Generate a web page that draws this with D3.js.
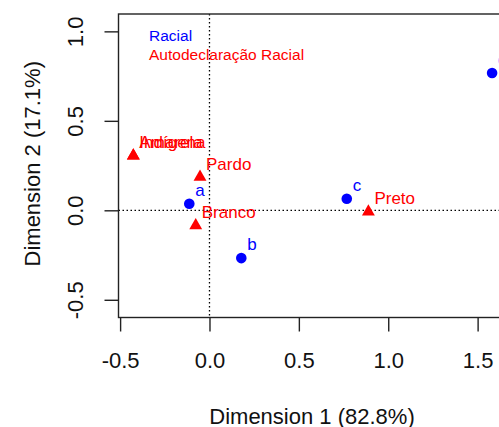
<!DOCTYPE html>
<html>
<head>
<meta charset="utf-8">
<script src="https://cdn.jsdelivr.net/npm/d3@7"></script>
<style>
  body { margin: 0; background: #fff; }
  text { font-family: "Liberation Sans", Arial, sans-serif; }
</style>
</head>
<body>
<svg width="499" height="427"></svg>
<script>
// row points (Racial)
var rowNames = ["a", "b", "c", "d"],
    rowX = [-0.113, 0.178, 0.768, 1.581],
    rowY = [0.037, -0.267, 0.065, 0.767];

// column points (Autodeclaração Racial)
var colNames = ["Amarela", "Branco", "Indígena", "Pardo", "Preto"],
    colX = [-0.426, -0.077, -0.426, -0.053, 0.889],
    colY = [0.305, -0.085, 0.305, 0.186, -0.008];

var xTicks = [-0.5, 0.0, 0.5, 1.0, 1.5],
    yTicks = [-0.5, 0.0, 0.5, 1.0];

var legendLabels = ["Racial", "Autodeclaração Racial"],
    colors = ["#0000ff", "#ff0000"];

var svg = d3.select("svg"),
    pLeft = 118.5, pRight = 505.5, pTop = 14, pBottom = 317.5;

var x = d3.scaleLinear().domain([-0.509, 1.656]).range([pLeft, pRight]);
var y = d3.scaleLinear().domain([-0.599, 1.097]).range([pBottom, pTop]);

// zero lines
svg.append("line")
    .attr("x1", x(0)).attr("x2", x(0)).attr("y1", pTop).attr("y2", pBottom)
    .attr("stroke", "#000").attr("stroke-width", 1.3).attr("stroke-dasharray", "1.5,2.5");
svg.append("line")
    .attr("x1", pLeft).attr("x2", pRight).attr("y1", y(0)).attr("y2", y(0))
    .attr("stroke", "#000").attr("stroke-width", 1.3).attr("stroke-dasharray", "1.5,2.5");

// box
svg.append("rect")
    .attr("x", pLeft).attr("y", pTop)
    .attr("width", pRight - pLeft).attr("height", pBottom - pTop)
    .attr("fill", "none").attr("stroke", "#222").attr("stroke-width", 1.4);

// x axis
var gx = svg.append("g")
    .attr("transform", "translate(0," + pBottom + ")")
    .call(d3.axisBottom(x).tickValues(xTicks).tickSize(14).tickPadding(21)
      .tickFormat(function(d) { return d.toFixed(1); }));
gx.select(".domain").remove();
gx.selectAll("line").attr("stroke", "#222").attr("stroke-width", 1.4);
gx.selectAll("text").attr("font-size", 22).attr("fill", "#111")
    .style("font-family", "'Liberation Sans', Arial, sans-serif");

// y axis
var gy = svg.append("g")
    .attr("transform", "translate(" + pLeft + ",0)")
    .call(d3.axisLeft(y).tickValues(yTicks).tickSize(14)
      .tickFormat(function(d) { return d.toFixed(1); }));
gy.select(".domain").remove();
gy.selectAll("line").attr("stroke", "#222").attr("stroke-width", 1.4);
gy.selectAll("text")
    .attr("x", 0).attr("dy", null)
    .attr("text-anchor", "middle")
    .attr("transform", "translate(" + (83 - pLeft) + ",0) rotate(-90)")
    .attr("font-size", 22).attr("fill", "#111")
    .style("font-family", "'Liberation Sans', Arial, sans-serif");

// axis titles
svg.append("text")
    .attr("x", (pLeft + pRight) / 2).attr("y", 424)
    .attr("text-anchor", "middle").attr("font-size", 22).attr("fill", "#111")
    .text("Dimension 1 (82.8%)");
svg.append("text")
    .attr("transform", "translate(40," + ((pTop + pBottom) / 2 - 2) + ") rotate(-90)")
    .attr("text-anchor", "middle").attr("font-size", 22).attr("fill", "#111")
    .text("Dimension 2 (17.1%)");

// row points
svg.selectAll(".row")
    .data(rowNames)
  .enter().append("circle")
    .attr("class", "row")
    .attr("cx", function(d, i) { return x(rowX[i]); })
    .attr("cy", function(d, i) { return y(rowY[i]); })
    .attr("r", 5.3)
    .attr("fill", colors[0]);

svg.selectAll(".rowlab")
    .data(rowNames)
  .enter().append("text")
    .attr("class", "rowlab")
    .attr("x", function(d, i) { return x(rowX[i]) + 6; })
    .attr("y", function(d, i) { return y(rowY[i]) - 8; })
    .attr("font-size", 17).attr("fill", colors[0])
    .text(function(d) { return d; });

// column points
var tri = d3.symbol().type(d3.symbolTriangle).size(72);
svg.selectAll(".col")
    .data(colNames)
  .enter().append("path")
    .attr("class", "col")
    .attr("d", tri)
    .attr("transform", function(d, i) { return "translate(" + x(colX[i]) + "," + y(colY[i]) + ")"; })
    .attr("fill", colors[1]);

svg.selectAll(".collab")
    .data(colNames)
  .enter().append("text")
    .attr("class", "collab")
    .attr("x", function(d, i) { return x(colX[i]) + 6; })
    .attr("y", function(d, i) { return y(colY[i]) - 7.5; })
    .attr("font-size", 17).attr("fill", colors[1])
    .text(function(d) { return d; });

// legend
svg.selectAll(".leg")
    .data(legendLabels)
  .enter().append("text")
    .attr("class", "leg")
    .attr("x", 149)
    .attr("y", function(d, i) { return 40.5 + i * 19.5; })
    .attr("font-size", 15.5)
    .attr("fill", function(d, i) { return colors[i]; })
    .text(function(d) { return d; });
</script>
</body>
</html>
